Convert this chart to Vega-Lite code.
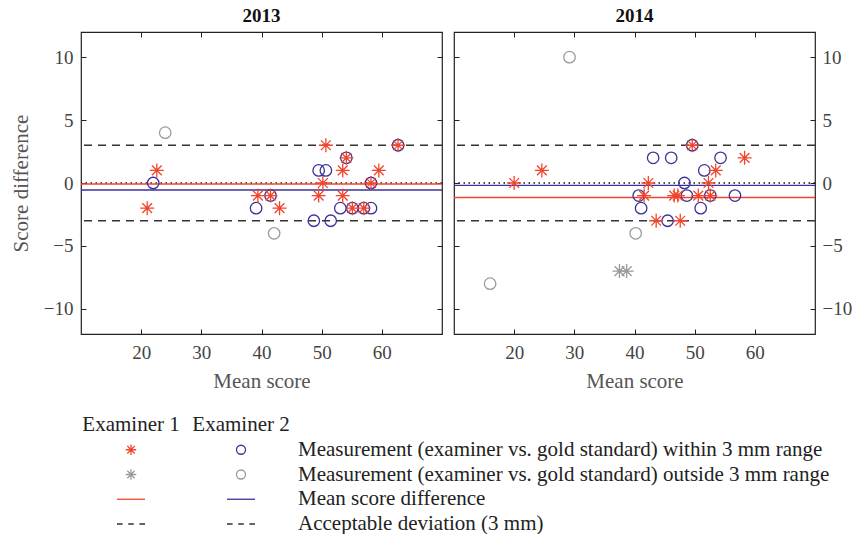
{
  "$schema": "https://vega.github.io/schema/vega-lite/v6.json",
  "background": "white",
  "padding": {"left": 9, "top": 5, "right": 5, "bottom": 0},
  "config": {
    "font": "Liberation Serif",
    "view": {"stroke": "#222", "strokeWidth": 1.2},
    "axis": {"domain": false, "grid": false, "labelFont": "Liberation Serif", "labelFontSize": 19, "labelColor": "#444", "titleFont": "Liberation Serif", "titleFontSize": 21, "titleColor": "#555", "titleFontWeight": "normal", "tickColor": "#222", "tickSize": -5},
    "title": {"font": "Liberation Serif", "fontSize": 19, "fontWeight": "bold", "color": "#111", "offset": 6}
  },
  "datasets": {
    "points": [
      {"year": 2013, "series": "Examiner 2 within", "mean": 22.0, "diff": 0},
      {"year": 2013, "series": "Examiner 2 within", "mean": 39.1, "diff": -2},
      {"year": 2013, "series": "Examiner 2 within", "mean": 41.5, "diff": -1},
      {"year": 2013, "series": "Examiner 2 within", "mean": 49.5, "diff": 1},
      {"year": 2013, "series": "Examiner 2 within", "mean": 50.7, "diff": 1},
      {"year": 2013, "series": "Examiner 2 within", "mean": 54.1, "diff": 2},
      {"year": 2013, "series": "Examiner 2 within", "mean": 58.2, "diff": 0},
      {"year": 2013, "series": "Examiner 2 within", "mean": 53.1, "diff": -2},
      {"year": 2013, "series": "Examiner 2 within", "mean": 55.1, "diff": -2},
      {"year": 2013, "series": "Examiner 2 within", "mean": 57.0, "diff": -2},
      {"year": 2013, "series": "Examiner 2 within", "mean": 58.2, "diff": -2},
      {"year": 2013, "series": "Examiner 2 within", "mean": 48.7, "diff": -3},
      {"year": 2013, "series": "Examiner 2 within", "mean": 51.5, "diff": -3},
      {"year": 2013, "series": "Examiner 2 within", "mean": 62.7, "diff": 3},
      {"year": 2013, "series": "Examiner 2 outside", "mean": 24.0, "diff": 4},
      {"year": 2013, "series": "Examiner 2 outside", "mean": 42.1, "diff": -4},
      {"year": 2013, "series": "Examiner 1 within", "mean": 22.6, "diff": 1},
      {"year": 2013, "series": "Examiner 1 within", "mean": 21.0, "diff": -2},
      {"year": 2013, "series": "Examiner 1 within", "mean": 39.4, "diff": -1},
      {"year": 2013, "series": "Examiner 1 within", "mean": 41.5, "diff": -1},
      {"year": 2013, "series": "Examiner 1 within", "mean": 43.0, "diff": -2},
      {"year": 2013, "series": "Examiner 1 within", "mean": 50.7, "diff": 3},
      {"year": 2013, "series": "Examiner 1 within", "mean": 54.1, "diff": 2},
      {"year": 2013, "series": "Examiner 1 within", "mean": 53.5, "diff": 1},
      {"year": 2013, "series": "Examiner 1 within", "mean": 59.5, "diff": 1},
      {"year": 2013, "series": "Examiner 1 within", "mean": 50.2, "diff": 0},
      {"year": 2013, "series": "Examiner 1 within", "mean": 58.2, "diff": 0},
      {"year": 2013, "series": "Examiner 1 within", "mean": 49.5, "diff": -1},
      {"year": 2013, "series": "Examiner 1 within", "mean": 53.5, "diff": -1},
      {"year": 2013, "series": "Examiner 1 within", "mean": 55.1, "diff": -2},
      {"year": 2013, "series": "Examiner 1 within", "mean": 57.0, "diff": -2},
      {"year": 2013, "series": "Examiner 1 within", "mean": 62.7, "diff": 3},
      {"year": 2014, "series": "Examiner 2 within", "mean": 40.7, "diff": -1},
      {"year": 2014, "series": "Examiner 2 within", "mean": 41.1, "diff": -2},
      {"year": 2014, "series": "Examiner 2 within", "mean": 43.1, "diff": 2},
      {"year": 2014, "series": "Examiner 2 within", "mean": 46.1, "diff": 2},
      {"year": 2014, "series": "Examiner 2 within", "mean": 54.3, "diff": 2},
      {"year": 2014, "series": "Examiner 2 within", "mean": 51.6, "diff": 1},
      {"year": 2014, "series": "Examiner 2 within", "mean": 48.3, "diff": 0},
      {"year": 2014, "series": "Examiner 2 within", "mean": 48.7, "diff": -1},
      {"year": 2014, "series": "Examiner 2 within", "mean": 52.6, "diff": -1},
      {"year": 2014, "series": "Examiner 2 within", "mean": 56.7, "diff": -1},
      {"year": 2014, "series": "Examiner 2 within", "mean": 51.0, "diff": -2},
      {"year": 2014, "series": "Examiner 2 within", "mean": 45.5, "diff": -3},
      {"year": 2014, "series": "Examiner 2 within", "mean": 49.6, "diff": 3},
      {"year": 2014, "series": "Examiner 2 outside", "mean": 29.2, "diff": 10},
      {"year": 2014, "series": "Examiner 2 outside", "mean": 40.2, "diff": -4},
      {"year": 2014, "series": "Examiner 2 outside", "mean": 16.0, "diff": -8},
      {"year": 2014, "series": "Examiner 1 within", "mean": 24.6, "diff": 1},
      {"year": 2014, "series": "Examiner 1 within", "mean": 20.0, "diff": 0},
      {"year": 2014, "series": "Examiner 1 within", "mean": 42.3, "diff": 0},
      {"year": 2014, "series": "Examiner 1 within", "mean": 41.6, "diff": -1},
      {"year": 2014, "series": "Examiner 1 within", "mean": 43.6, "diff": -3},
      {"year": 2014, "series": "Examiner 1 within", "mean": 49.6, "diff": 3},
      {"year": 2014, "series": "Examiner 1 within", "mean": 58.3, "diff": 2},
      {"year": 2014, "series": "Examiner 1 within", "mean": 53.5, "diff": 1},
      {"year": 2014, "series": "Examiner 1 within", "mean": 52.3, "diff": 0},
      {"year": 2014, "series": "Examiner 1 within", "mean": 46.6, "diff": -1},
      {"year": 2014, "series": "Examiner 1 within", "mean": 47.2, "diff": -1},
      {"year": 2014, "series": "Examiner 1 within", "mean": 50.6, "diff": -1},
      {"year": 2014, "series": "Examiner 1 within", "mean": 52.6, "diff": -1},
      {"year": 2014, "series": "Examiner 1 within", "mean": 47.6, "diff": -3},
      {"year": 2014, "series": "Examiner 1 outside", "mean": 37.5, "diff": -7},
      {"year": 2014, "series": "Examiner 1 outside", "mean": 38.7, "diff": -7}
    ],
    "lines": [
      {"year": 2013, "kind": "zero", "value": 0},
      {"year": 2013, "kind": "deviation", "value": 3},
      {"year": 2013, "kind": "deviation", "value": -3},
      {"year": 2013, "kind": "Examiner 1 mean", "value": -0.08},
      {"year": 2013, "kind": "Examiner 2 mean", "value": -0.56},
      {"year": 2014, "kind": "zero", "value": 0},
      {"year": 2014, "kind": "deviation", "value": 3},
      {"year": 2014, "kind": "deviation", "value": -3},
      {"year": 2014, "kind": "Examiner 1 mean", "value": -1.15},
      {"year": 2014, "kind": "Examiner 2 mean", "value": -0.19}
    ],
    "legend": [
      {"col": "Examiner 1", "row": "within", "sym": "red star"},
      {"col": "Examiner 2", "row": "within", "sym": "blue circle"},
      {"col": "Examiner 1", "row": "outside", "sym": "gray star"},
      {"col": "Examiner 2", "row": "outside", "sym": "gray circle"},
      {"col": "Examiner 1", "row": "mean", "sym": "red line"},
      {"col": "Examiner 2", "row": "mean", "sym": "blue line"},
      {"col": "Examiner 1", "row": "dev", "sym": "dash"},
      {"col": "Examiner 2", "row": "dev", "sym": "dash"}
    ],
    "legendText": [
      {"col": "Examiner 1", "row": "header", "kind": "header", "label": "Examiner 1"},
      {"col": "Examiner 2", "row": "header", "kind": "header", "label": "Examiner 2"},
      {"col": "Examiner 2", "row": "within", "kind": "desc", "label": "Measurement (examiner vs. gold standard) within 3 mm range"},
      {"col": "Examiner 2", "row": "outside", "kind": "desc", "label": "Measurement (examiner vs. gold standard) outside 3 mm range"},
      {"col": "Examiner 2", "row": "mean", "kind": "desc", "label": "Mean score difference"},
      {"col": "Examiner 2", "row": "dev", "kind": "desc", "label": "Acceptable deviation (3 mm)"}
    ]
  },
  "vconcat": [
    {
      "hconcat": [
        {
          "title": "2013",
          "width": 361,
          "height": 302,
          "layer": [
            {"data": {"name": "lines"}, "transform": [{"filter": "datum.year == 2013 && datum.kind == 'zero'"}],
             "mark": {"type": "rule", "strokeDash": [1.5, 3.5], "stroke": "#111", "strokeWidth": 1.3},
             "encoding": {"y": {"field": "value", "type": "quantitative", "scale": {"domain": [-12, 12]}, "axis": null}}},
            {"data": {"name": "lines"}, "transform": [{"filter": "datum.year == 2013 && datum.kind == 'deviation'"}],
             "mark": {"type": "rule", "strokeDash": [8, 6], "stroke": "#333", "strokeWidth": 1.4},
             "encoding": {"y": {"field": "value", "type": "quantitative", "scale": {"domain": [-12, 12]}, "axis": null}}},
            {"data": {"name": "lines"}, "transform": [{"filter": "datum.year == 2013 && (datum.kind == 'Examiner 1 mean' || datum.kind == 'Examiner 2 mean')"}],
             "mark": {"type": "rule", "strokeWidth": 1.4},
             "encoding": {"y": {"field": "value", "type": "quantitative", "scale": {"domain": [-12, 12]}, "axis": null},
                          "color": {"field": "kind", "type": "nominal", "scale": {"domain": ["Examiner 1 mean", "Examiner 2 mean"], "range": ["#f0462d", "#3a3299"]}, "legend": null}}},
            {"data": {"name": "points"}, "transform": [{"filter": "datum.year == 2013"}],
             "mark": {"type": "point", "opacity": 0},
             "encoding": {
               "x": {"field": "mean", "type": "quantitative", "scale": {"domain": [10, 70]}, "axis": {"orient": "top", "labels": false, "title": null, "values": [20, 30, 40, 50, 60]}},
               "y": {"field": "diff", "type": "quantitative", "scale": {"domain": [-12, 12]}, "axis": {"orient": "right", "labels": false, "title": null, "values": [-10, -5, 0, 5, 10]}}}},
            {"data": {"name": "points"}, "transform": [{"filter": "datum.year == 2013"}],
             "mark": {"type": "point", "filled": false, "strokeWidth": 1.3, "opacity": 1},
             "encoding": {
               "x": {"field": "mean", "type": "quantitative", "scale": {"domain": [10, 70]}, "axis": {"orient": "bottom", "title": "Mean score", "values": [20, 30, 40, 50, 60], "labelPadding": 14, "titlePadding": 8}},
               "y": {"field": "diff", "type": "quantitative", "scale": {"domain": [-12, 12]}, "axis": {"orient": "left", "title": "Score difference", "values": [-10, -5, 0, 5, 10], "labelPadding": 13, "titlePadding": 12}},
               "shape": {"field": "series", "type": "nominal", "scale": {"domain": ["Examiner 1 within", "Examiner 1 outside", "Examiner 2 within", "Examiner 2 outside"], "range": ["M0,-1L0,1M-1,0L1,0M-0.7,-0.7L0.7,0.7M-0.7,0.7L0.7,-0.7", "M0,-1L0,1M-1,0L1,0M-0.7,-0.7L0.7,0.7M-0.7,0.7L0.7,-0.7", "circle", "circle"]}, "legend": null},
               "stroke": {"field": "series", "type": "nominal", "scale": {"domain": ["Examiner 1 within", "Examiner 1 outside", "Examiner 2 within", "Examiner 2 outside"], "range": ["#f0462d", "#9a9a9a", "#3a3299", "#9a9a9a"]}, "legend": null},
               "size": {"field": "series", "type": "nominal", "scale": {"type": "ordinal", "domain": ["Examiner 1 within", "Examiner 1 outside", "Examiner 2 within", "Examiner 2 outside"], "range": [196, 196, 132, 132]}, "legend": null}}}
          ],
          "resolve": {"axis": {"x": "independent", "y": "independent"}}
        },
        {
          "title": "2014",
          "width": 361,
          "height": 302,
          "layer": [
            {"data": {"name": "lines"}, "transform": [{"filter": "datum.year == 2014 && datum.kind == 'zero'"}],
             "mark": {"type": "rule", "strokeDash": [1.5, 3.5], "stroke": "#111", "strokeWidth": 1.3},
             "encoding": {"y": {"field": "value", "type": "quantitative", "scale": {"domain": [-12, 12]}, "axis": null}}},
            {"data": {"name": "lines"}, "transform": [{"filter": "datum.year == 2014 && datum.kind == 'deviation'"}],
             "mark": {"type": "rule", "strokeDash": [8, 6], "stroke": "#333", "strokeWidth": 1.4},
             "encoding": {"y": {"field": "value", "type": "quantitative", "scale": {"domain": [-12, 12]}, "axis": null}}},
            {"data": {"name": "lines"}, "transform": [{"filter": "datum.year == 2014 && (datum.kind == 'Examiner 1 mean' || datum.kind == 'Examiner 2 mean')"}],
             "mark": {"type": "rule", "strokeWidth": 1.4},
             "encoding": {"y": {"field": "value", "type": "quantitative", "scale": {"domain": [-12, 12]}, "axis": null},
                          "color": {"field": "kind", "type": "nominal", "scale": {"domain": ["Examiner 1 mean", "Examiner 2 mean"], "range": ["#f0462d", "#3a3299"]}, "legend": null}}},
            {"data": {"name": "points"}, "transform": [{"filter": "datum.year == 2014"}],
             "mark": {"type": "point", "opacity": 0},
             "encoding": {
               "x": {"field": "mean", "type": "quantitative", "scale": {"domain": [10, 70]}, "axis": {"orient": "top", "labels": false, "title": null, "values": [20, 30, 40, 50, 60]}},
               "y": {"field": "diff", "type": "quantitative", "scale": {"domain": [-12, 12]}, "axis": {"orient": "left", "labels": false, "title": null, "values": [-10, -5, 0, 5, 10]}}}},
            {"data": {"name": "points"}, "transform": [{"filter": "datum.year == 2014"}],
             "mark": {"type": "point", "filled": false, "strokeWidth": 1.3, "opacity": 1},
             "encoding": {
               "x": {"field": "mean", "type": "quantitative", "scale": {"domain": [10, 70]}, "axis": {"orient": "bottom", "title": "Mean score", "values": [20, 30, 40, 50, 60], "labelPadding": 14, "titlePadding": 8}},
               "y": {"field": "diff", "type": "quantitative", "scale": {"domain": [-12, 12]}, "axis": {"orient": "right", "title": null, "values": [-10, -5, 0, 5, 10], "labelPadding": 12}},
               "shape": {"field": "series", "type": "nominal", "scale": {"domain": ["Examiner 1 within", "Examiner 1 outside", "Examiner 2 within", "Examiner 2 outside"], "range": ["M0,-1L0,1M-1,0L1,0M-0.7,-0.7L0.7,0.7M-0.7,0.7L0.7,-0.7", "M0,-1L0,1M-1,0L1,0M-0.7,-0.7L0.7,0.7M-0.7,0.7L0.7,-0.7", "circle", "circle"]}, "legend": null},
               "stroke": {"field": "series", "type": "nominal", "scale": {"domain": ["Examiner 1 within", "Examiner 1 outside", "Examiner 2 within", "Examiner 2 outside"], "range": ["#f0462d", "#9a9a9a", "#3a3299", "#9a9a9a"]}, "legend": null},
               "size": {"field": "series", "type": "nominal", "scale": {"type": "ordinal", "domain": ["Examiner 1 within", "Examiner 1 outside", "Examiner 2 within", "Examiner 2 outside"], "range": [196, 196, 132, 132]}, "legend": null}}}
          ],
          "resolve": {"axis": {"x": "independent", "y": "independent"}}
        }
      ],
      "spacing": 8
    },
    {
      "width": 780,
      "height": 125,
      "view": {"stroke": null},
      "layer": [
        {"data": {"name": "legendText"}, "transform": [{"filter": "datum.kind == 'header'"}],
         "mark": {"type": "text", "align": "center", "baseline": "middle", "fontSize": 21, "color": "#222"},
         "encoding": {
           "x": {"field": "col", "type": "nominal", "scale": {"type": "point", "padding": 0, "domain": ["Examiner 1", "Examiner 2"], "range": [50, 160]}, "axis": null},
           "y": {"field": "row", "type": "nominal", "scale": {"type": "point", "padding": 0, "domain": ["header", "within", "outside", "mean", "dev"], "range": [17, 116]}, "axis": null},
           "text": {"field": "label"}}},
        {"data": {"name": "legendText"}, "transform": [{"filter": "datum.kind == 'desc'"}],
         "mark": {"type": "text", "align": "left", "baseline": "middle", "fontSize": 21, "color": "#222", "dx": 57},
         "encoding": {
           "x": {"field": "col", "type": "nominal", "scale": {"type": "point", "padding": 0, "domain": ["Examiner 1", "Examiner 2"], "range": [50, 160]}, "axis": null},
           "y": {"field": "row", "type": "nominal", "scale": {"type": "point", "padding": 0, "domain": ["header", "within", "outside", "mean", "dev"], "range": [17, 116]}, "axis": null},
           "text": {"field": "label"}}},
        {"data": {"name": "legend"},
         "mark": {"type": "point", "filled": false, "strokeWidth": 1.3, "opacity": 1},
         "encoding": {
           "x": {"field": "col", "type": "nominal", "scale": {"type": "point", "padding": 0, "domain": ["Examiner 1", "Examiner 2"], "range": [50, 160]}, "axis": null},
           "y": {"field": "row", "type": "nominal", "scale": {"type": "point", "padding": 0, "domain": ["header", "within", "outside", "mean", "dev"], "range": [17, 116]}, "axis": null},
           "shape": {"field": "sym", "type": "nominal", "scale": {"domain": ["red star", "blue circle", "gray star", "gray circle", "red line", "blue line", "dash"], "range": ["M0,-1L0,1M-1,0L1,0M-0.7,-0.7L0.7,0.7M-0.7,0.7L0.7,-0.7", "circle", "M0,-1L0,1M-1,0L1,0M-0.7,-0.7L0.7,0.7M-0.7,0.7L0.7,-0.7", "circle", "M-1,0L1,0", "M-1,0L1,0", "M-1,0L-0.6,0M-0.2,0L0.2,0M0.6,0L1,0"]}, "legend": null},
           "stroke": {"field": "sym", "type": "nominal", "scale": {"domain": ["red star", "blue circle", "gray star", "gray circle", "red line", "blue line", "dash"], "range": ["#f0462d", "#3a3299", "#9a9a9a", "#9a9a9a", "#f0462d", "#3a3299", "#333333"]}, "legend": null},
           "size": {"field": "sym", "type": "nominal", "scale": {"type": "ordinal", "domain": ["red star", "blue circle", "gray star", "gray circle", "red line", "blue line", "dash"], "range": [110, 81, 110, 81, 784, 784, 784]}, "legend": null}}}
      ]
    }
  ],
  "spacing": 16,
  "resolve": {"scale": {"shape": "independent", "stroke": "independent", "size": "independent", "color": "independent"}}
}
